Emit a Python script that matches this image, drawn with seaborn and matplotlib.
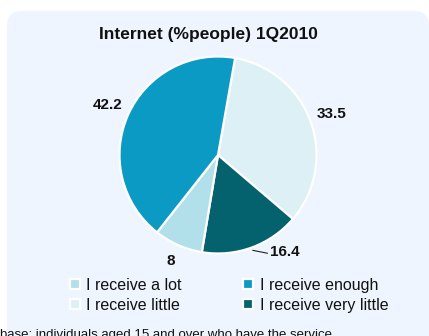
import numpy as np
import matplotlib
matplotlib.use("Agg")
import matplotlib.pyplot as plt
from matplotlib.patches import FancyBboxPatch
from matplotlib.lines import Line2D
import seaborn as sns

# Survey shares, listed clockwise from the top of the pie
categories = ["I receive little", "I receive very little", "I receive a lot", "I receive enough"]
values = [33.5, 16.4, 8, 42.2]
value_labels = ["33.5", "16.4", "8", "42.2"]
colors = ["#DDF0F5", "#04626F", "#B1E0EA", "#0A9AC4"]
legend_order = ["I receive a lot", "I receive little", "I receive enough", "I receive very little"]

title = "Internet (%people) 1Q2010"
footnote = "base: individuals aged 15 and over who have the service"

sns.set_theme(style="white")
plt.rcParams["font.family"] = ["Liberation Sans", "DejaVu Sans"]

W, H = 429, 336
fig = plt.figure(figsize=(W / 100, H / 100), dpi=100)
fig.patch.set_facecolor("white")

# rounded light-blue panel behind the chart
panel = FancyBboxPatch((7 / W, -40 / H), (W - 7) / W, (H - 11 + 40) / H,
                       boxstyle="round,pad=0,rounding_size=0.035",
                       transform=fig.transFigure, facecolor="#EEF5FE", edgecolor="none",
                       mutation_aspect=W / H, zorder=-5)
fig.patches.append(panel)

# pie axes: centre at (218, 155) px, radius ~98.5 px
R = 98.5
side = 280
cx, cy = 218, 155
ax = fig.add_axes([(cx - side / 2) / W, (H - cy - side / 2) / H, side / W, side / H])
ax.set_zorder(2)
ax.set_facecolor("none")
ax.patch.set_alpha(0)

wedges, texts = ax.pie(values, colors=colors, startangle=80, counterclock=False,
                       labels=value_labels, labeldistance=1.23,
                       wedgeprops=dict(edgecolor="white", linewidth=1.6),
                       textprops=dict(fontsize=11, fontweight="bold", color="#111111"))

L = side / 2 / R
ax.set_xlim(-L, L)
ax.set_ylim(-L, L)
ax.axis("off")

for w, t, lab in zip(wedges, texts, value_labels):
    t.set_ha("center")
    t.set_va("center")
    if lab == "16.4":
        mid = np.deg2rad((w.theta1 + w.theta2) / 2)
        start = 1.03 * np.array([np.cos(mid), np.sin(mid)])
        end = start + np.array([0.15, -0.03])
        ax.plot([start[0], end[0]], [start[1], end[1]], color="#222222", lw=0.8)
        t.set_position((end[0] + 0.03, end[1] + 0.01))
        t.set_ha("left")
    if lab == "8":
        x, y = t.get_position()
        t.set_position((x * 0.96, y * 0.96))

fig.text(208 / W, (H - 39.5) / H, title, ha="center", va="baseline",
         fontsize=12.5, fontweight="bold", color="#111111", zorder=3)

color_of = dict(zip(categories, colors))
handles = [Line2D([], [], linestyle="none", marker="s", markersize=6.5,
                  markerfacecolor=color_of[c], markeredgecolor="white", markeredgewidth=1.6)
           for c in legend_order]
leg = fig.legend(handles, legend_order, ncol=2, loc="upper left",
                 bbox_to_anchor=(69 / W, (H - 278) / H), frameon=False,
                 fontsize=11.5, handlelength=0.7, handletextpad=0.35,
                 columnspacing=3.85, labelspacing=0.3, borderpad=0, borderaxespad=0)
leg.set_zorder(3)
for t in leg.get_texts():
    t.set_color("#111111")

fig.text(0, (H - 338) / H, footnote, ha="left", va="baseline", fontsize=9.5,
         color="#111111", zorder=3)

fig.savefig("out.png", dpi=100, facecolor="white")
